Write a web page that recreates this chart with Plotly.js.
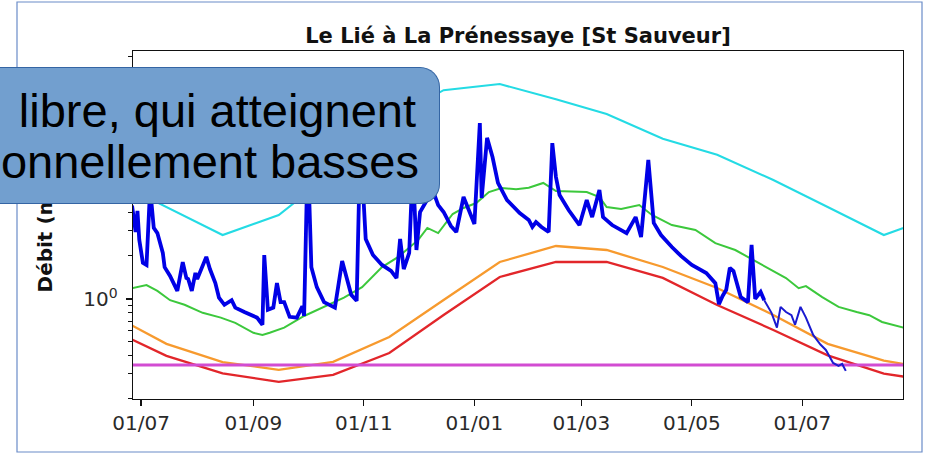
<!DOCTYPE html>
<html>
<head>
<meta charset="utf-8">
<script src="https://cdn.plot.ly/plotly-3.0.1.min.js"></script>
<style>
  html, body { margin: 0; padding: 0; background: #ffffff; }
  #wrap { position: relative; width: 926px; height: 453px; overflow: hidden; }
  #chart { position: absolute; left: 0; top: 0; width: 926px; height: 453px; }
  #callout {
    position: absolute; left: -40px; top: 67px; width: 479px; height: 135px;
    background: #729fcf; border: 1.2px solid #3465a4; border-left: none;
    border-radius: 0 20px 20px 0;
  }
  .cline {
    position: absolute; left: -200px; text-align: right; white-space: nowrap;
    font-family: 'Liberation Sans', Arial, sans-serif; font-size: 47px; line-height: 47px; color: #000;
  }
</style>
</head>
<body>
<div id="wrap">
  <div id="chart"></div>
  <div id="callout"></div>
  <div class="cline" id="cl1"></div>
  <div class="cline" id="cl2"></div>
</div>
<script>
// ---------- DATA ----------
const chartTitle = 'Le Lié à La Prénessaye [St Sauveur]';
const yTitle = 'Débit (m³/s)';
const calloutLine1 = 'libre, qui atteignent';
const calloutLine2 = 'onnellement basses';

const xTickVals = ['2022-07-01', '2022-09-01', '2022-11-01', '2023-01-01', '2023-03-01', '2023-05-01', '2023-07-01'];
const xTickText = ['01/07', '01/09', '01/11', '01/01', '01/03', '01/05', '01/07'];
const yTickVals = [1, 10];
const yTickText = ['10<sup>0</sup>', '10<sup>1</sup>'];
const yMinorVals = [0.2, 0.3, 0.4, 0.5, 0.6, 0.7, 0.8, 0.9, 2, 3, 4, 5, 6, 7, 8, 9, 20, 30, 40, 50];

// monthly reference curves (mid-month points)
const refDates = ['2022-06-15', '2022-07-15', '2022-08-15', '2022-09-15', '2022-10-15', '2022-11-15', '2022-12-15',
  '2023-01-15', '2023-02-15', '2023-03-15', '2023-04-15', '2023-05-15', '2023-06-15', '2023-07-15', '2023-08-15', '2023-09-15'];
const cyanVals   = [6.80, 4.40, 2.80, 3.87, 7.73, 17.9, 28.9, 31.9, 25.0, 19.7, 13.2, 10.2, 6.80, 4.40, 2.80, 3.87];
const orangeVals = [0.773, 0.485, 0.362, 0.319, 0.363, 0.542, 0.984, 1.814, 2.348, 2.201, 1.674, 1.194, 0.773, 0.485, 0.370, 0.319];
const redVals    = [0.607, 0.400, 0.302, 0.263, 0.294, 0.419, 0.773, 1.425, 1.814, 1.814, 1.403, 0.908, 0.607, 0.403, 0.300, 0.263];

const magentaDates = ['2022-06-15', '2023-09-15'];
const magentaVals = [0.345, 0.345];

const greenDates = ['2022-06-26', '2022-07-04', '2022-07-10', '2022-07-17', '2022-07-25', '2022-08-04', '2022-08-14', '2022-08-22',
  '2022-09-01', '2022-09-06', '2022-09-10', '2022-09-18', '2022-09-29', '2022-10-10', '2022-10-21', '2022-10-31', '2022-11-11',
  '2022-11-20', '2022-12-01', '2022-12-06', '2022-12-12', '2022-12-20', '2022-12-26', '2023-01-02', '2023-01-09', '2023-01-16',
  '2023-01-24', '2023-01-31', '2023-02-08', '2023-02-15', '2023-03-04', '2023-03-11', '2023-03-15', '2023-03-23', '2023-04-02',
  '2023-04-09', '2023-04-20', '2023-05-03', '2023-05-14', '2023-05-25', '2023-06-02', '2023-06-11', '2023-06-22', '2023-06-29',
  '2023-07-03', '2023-07-12', '2023-07-21', '2023-07-31', '2023-08-07', '2023-08-14', '2023-08-26'];
const greenVals = [1.19, 1.25, 1.14, 0.98, 0.91, 0.80, 0.74, 0.68, 0.58, 0.56, 0.58, 0.63, 0.76, 0.88, 1.02, 1.21, 1.67,
  1.97, 2.59, 3.14, 2.89, 3.93, 4.33, 4.69, 5.60, 5.97, 5.85, 6.00, 6.48, 5.69, 5.60, 5.17, 4.40, 4.26, 4.54,
  3.87, 3.29, 3.04, 2.46, 2.20, 1.94, 1.67, 1.40, 1.19, 1.23, 1.03, 0.88, 0.81, 0.77, 0.69, 0.63];

// observed daily flows (validated part)
const blueDates = ['2022-06-26', '2022-06-28', '2022-06-29', '2022-06-30', '2022-07-02', '2022-07-04', '2022-07-06', '2022-07-08',
  '2022-07-10', '2022-07-13', '2022-07-14', '2022-07-17', '2022-07-21', '2022-07-24', '2022-07-26', '2022-07-27', '2022-07-29',
  '2022-07-31', '2022-08-01', '2022-08-04', '2022-08-06', '2022-08-08', '2022-08-11', '2022-08-13', '2022-08-16', '2022-08-20',
  '2022-08-22', '2022-08-27', '2022-08-31', '2022-09-03', '2022-09-06', '2022-09-07', '2022-09-09', '2022-09-12', '2022-09-14',
  '2022-09-16', '2022-09-18', '2022-09-21', '2022-09-25', '2022-09-28', '2022-09-29', '2022-10-01', '2022-10-03', '2022-10-06',
  '2022-10-10', '2022-10-16', '2022-10-20', '2022-10-22', '2022-10-25', '2022-10-28', '2022-10-30', '2022-11-02', '2022-11-06',
  '2022-11-11', '2022-11-16', '2022-11-19', '2022-11-21', '2022-11-23', '2022-11-26', '2022-11-28', '2022-11-30', '2022-12-02',
  '2022-12-06', '2022-12-09', '2022-12-12', '2022-12-15', '2022-12-19', '2022-12-22', '2022-12-26', '2022-12-29', '2023-01-01',
  '2023-01-04', '2023-01-05', '2023-01-08', '2023-01-11', '2023-01-14', '2023-01-19', '2023-01-26', '2023-01-31', '2023-02-02',
  '2023-02-04', '2023-02-07', '2023-02-11', '2023-02-13', '2023-02-15', '2023-02-17', '2023-02-22', '2023-02-28', '2023-03-04',
  '2023-03-07', '2023-03-11', '2023-03-13', '2023-03-18', '2023-03-26', '2023-03-31', '2023-04-03', '2023-04-07', '2023-04-10',
  '2023-04-14', '2023-04-20', '2023-04-25', '2023-05-01', '2023-05-09', '2023-05-14', '2023-05-16', '2023-05-18', '2023-05-20',
  '2023-05-22', '2023-05-24', '2023-05-28', '2023-06-01', '2023-06-03', '2023-06-05', '2023-06-08', '2023-06-10'];
const blueVals = [4.5, 2.94, 4.13, 2.59, 1.79, 1.73, 5.97, 3.14,
  2.89, 2.10, 1.67, 1.45, 1.14, 1.81, 1.40, 1.38, 1.14,
  1.52, 1.38, 1.73, 1.97, 1.62, 1.29, 1.02, 0.91, 0.98,
  0.87, 0.81, 0.77, 0.74, 0.66, 2.03, 0.84, 0.87, 1.29,
  0.95, 0.95, 0.75, 0.74, 0.89, 0.76, 11.0, 1.67, 1.21,
  0.95, 0.87, 1.84, 1.47, 1.07, 0.97, 12.9, 2.63, 2.03,
  1.73, 1.57, 1.40, 2.63, 1.62, 2.10, 8.65, 2.20, 4.06,
  4.92, 5.78, 4.54, 4.06, 3.24, 2.94, 5.17, 4.19, 3.35,
  17.0, 5.09, 13.4, 9.84, 6.48, 4.92, 3.99, 3.57, 3.19,
  3.45, 3.19, 2.94, 12.3, 7.13, 5.34, 4.19, 3.29, 4.92,
  3.74, 5.78, 3.74, 3.29, 2.89, 3.74, 2.71, 9.38, 3.40,
  2.80, 2.31, 2.00, 1.73, 1.52, 1.29, 0.92, 1.05, 1.16,
  1.65, 1.57, 1.03, 0.95, 2.39, 1.00, 1.12, 0.98];

// observed daily flows (provisional part)
const blueProvDates = ['2023-06-10', '2023-06-14', '2023-06-17', '2023-06-19', '2023-06-22', '2023-06-25', '2023-06-27', '2023-06-30',
  '2023-07-03', '2023-07-07', '2023-07-11', '2023-07-14', '2023-07-18', '2023-07-21', '2023-07-23', '2023-07-25'];
const blueProvVals = [0.98, 0.80, 0.63, 0.88, 0.81, 0.77, 0.66, 0.88,
  0.74, 0.56, 0.48, 0.44, 0.357, 0.34, 0.351, 0.314];

// ---------- LAYOUT ----------
const W = 926, H = 453;
const M = { l: 133, r: 23, t: 51, b: 54 };
const PW = W - M.l - M.r, PH = H - M.t - M.b;
const px = X => (X - M.l) / PW;
const py = Y => (H - M.b - Y) / PH;

const line = (x, y, color, width) => ({
  x: x, y: y, type: 'scatter', mode: 'lines',
  line: { color: color, width: width }, hoverinfo: 'skip', showlegend: false
});

const traces = [
  line(refDates, cyanVals, '#24dbe4', 2.1),
  line(greenDates, greenVals, '#3cc83c', 2),
  line(refDates, orangeVals, '#f79a2e', 2.3),
  line(refDates, redVals, '#e2262a', 2.3),
  line(magentaDates, magentaVals, '#d24cd2', 3),
  line(blueDates, blueVals, '#0000e6', 3.8),
  line(blueProvDates, blueProvVals, '#1a1ad0', 2)
];

const tickFont = { family: 'DejaVu Sans', size: 20, color: '#2a2a2a' };

const layout = {
  width: W, height: H, margin: M,
  paper_bgcolor: '#ffffff', plot_bgcolor: '#ffffff', showlegend: false,
  title: {
    text: chartTitle,
    font: { family: 'DejaVu Sans', size: 21, color: '#111111', weight: 'bold' },
    x: 0.5, xref: 'paper', xanchor: 'center',
    y: 1 - 43 / H, yref: 'container', yanchor: 'bottom'
  },
  xaxis: {
    type: 'date', range: ['2022-06-26 13:00', '2023-08-25 14:00'],
    tickmode: 'array', tickvals: xTickVals, ticktext: xTickText,
    ticks: 'outside', ticklen: 6, tickwidth: 1.2, tickcolor: '#111',
    showline: true, linecolor: '#111', linewidth: 1.3, mirror: true,
    showgrid: false, zeroline: false, tickfont: tickFont, ticklabelstandoff: 5.5
  },
  yaxis: {
    type: 'log', range: [-0.70, 1.735],
    tickmode: 'array', tickvals: yTickVals, ticktext: yTickText,
    ticks: 'outside', ticklen: 6, tickwidth: 1.2, tickcolor: '#111',
    minor: { tickmode: 'array', tickvals: yMinorVals, ticks: 'outside', ticklen: 3.5, tickwidth: 1, tickcolor: '#111', showgrid: false },
    showline: true, linecolor: '#111', linewidth: 1.3, mirror: true,
    showgrid: false, zeroline: false, tickfont: tickFont, ticklabelstandoff: 4,
    title: { text: yTitle, font: { family: 'DejaVu Sans', size: 20, color: '#111111', weight: 'bold' }, standoff: 25 }
  },
  shapes: [
    { type: 'rect', xref: 'paper', yref: 'paper', layer: 'above',
      x0: px(17), x1: px(922), y0: py(452), y1: py(2),
      line: { color: '#6a8cc8', width: 1.2 }, fillcolor: 'rgba(0,0,0,0)' }
  ]
};

Plotly.newPlot('chart', traces, layout, { staticPlot: true, displayModeBar: false });

// slide callout overlaying the chart (text baselines at y=127 and y=178)
const cl1 = document.getElementById('cl1');
const cl2 = document.getElementById('cl2');
cl1.textContent = calloutLine1;
cl2.textContent = calloutLine2;
cl1.style.width = (416 + 200) + 'px';
cl2.style.width = (419 + 200) + 'px';
cl1.style.top = (127 - 40) + 'px';
cl2.style.top = (178 - 40) + 'px';
</script>
</body>
</html>
